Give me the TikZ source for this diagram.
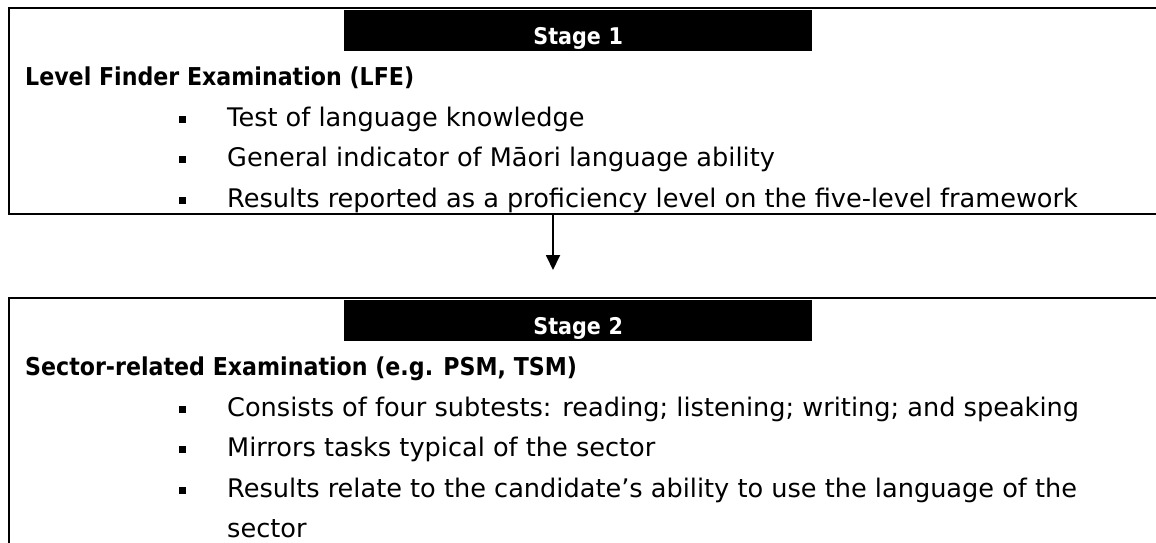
\documentclass[tikz,border=0pt]{standalone}
\usepackage{fontspec}
\setmainfont{DejaVu Sans}
\newfontfamily\headfont{DejaVu Sans}[FakeStretch=0.9]
\usetikzlibrary{arrows.meta}
\tikzset{
  boxline/.style={draw=black, line width=2.6pt},
  stagebar/.style={fill=black, text=white, font=\headfont\fontsize{23}{27}\selectfont\bfseries,
    anchor=north west, inner sep=0pt, minimum width=468pt, text width=468pt, align=center,
    text height=35pt, text depth=6pt},
  heading/.style={anchor=base west, inner sep=0pt, font=\headfont\fontsize{24.6}{29}\selectfont\bfseries},
  item/.style={anchor=base west, inner sep=0pt, font=\fontsize{25.6}{30}\selectfont},
  bul/.style={fill=black, inner sep=0pt, minimum size=7pt, anchor=center},
  flow/.style={line width=1.8pt, -{Triangle[width=14pt,length=15pt]}}
}
\begin{document}
\begin{tikzpicture}[x=1pt,y=-1pt]
\useasboundingbox (0,0) rectangle (1156,542);
\begin{scope}
\clip (0,0) rectangle (1156,542);
\draw[boxline] (9,8) rectangle (1190,214);
\draw[boxline] (9,298) rectangle (1190,590);
\end{scope}
% Stage 1
\node[stagebar] (bar1) at (344,9.5) {Stage 1};
\node[heading] (h1) at (25,85) {Level Finder Examination (LFE)};
\node[bul] (b11) at (182.5,119) {};
\node[item] (t11) at (227,126) {Test of language knowledge};
\node[bul] (b12) at (182.5,159.5) {};
\node[item] (t12) at (227,166.5) {General indicator of Māori language ability};
\node[bul] (b13) at (182.5,200) {};
\node[item] (t13) at (227,207) {Results reported as a proficiency level on the five-level framework};
% arrow
\coordinate (a1) at (553,215);
\coordinate (a2) at (553,270);
\draw[flow] (a1) -- (a2);
% Stage 2
\node[stagebar] (bar2) at (344,299.5) {Stage 2};
\node[heading] (h2) at (25,375) {Sector-related Examination (e.g. PSM, TSM)};
\node[bul] (b21) at (182.5,409) {};
\node[item] (t21) at (227,416) {Consists of four subtests: reading; listening; writing; and speaking};
\node[bul] (b22) at (182.5,449.5) {};
\node[item] (t22) at (227,456.5) {Mirrors tasks typical of the sector};
\node[bul] (b23) at (182.5,490) {};
\node[item] (t23) at (227,497) {Results relate to the candidate’s ability to use the language of the};
\node[item] (t24) at (227,537) {sector};
\end{tikzpicture}
\end{document}
